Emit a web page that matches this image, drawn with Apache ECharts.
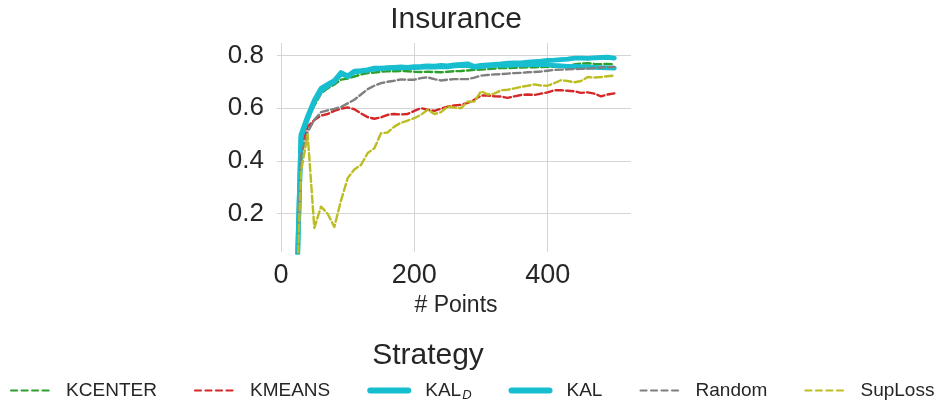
<!DOCTYPE html>
<html>
<head>
<meta charset="utf-8">
<script src="https://cdn.jsdelivr.net/npm/echarts@6/dist/echarts.min.js"></script>
<style>
html,body{margin:0;padding:0;background:#fff;}
#chart{width:938px;height:401px;}
</style>
</head>
<body>
<div id="chart"></div>
<script>
const points = [20,30,40,50,60,70,80,90,100,110,120,130,140,150,160,170,180,190,200,210,220,230,240,250,260,270,280,290,300,310,320,330,340,350,360,370,380,390,400,410,420,430,440,450,460,470,480,490,500];

const kcenter = [-0.4,0.49,0.56,0.61,0.655,0.675,0.69,0.708,0.712,0.72,0.728,0.733,0.735,0.738,0.74,0.74,0.741,0.74,0.738,0.737,0.738,0.737,0.736,0.738,0.74,0.741,0.743,0.745,0.746,0.748,0.75,0.752,0.752,0.753,0.754,0.755,0.755,0.756,0.757,0.757,0.756,0.758,0.766,0.769,0.77,0.768,0.767,0.768,0.766];

const kmeans = [-0.4,0.45,0.53,0.555,0.572,0.578,0.59,0.598,0.603,0.596,0.58,0.566,0.56,0.565,0.575,0.578,0.576,0.578,0.59,0.6,0.594,0.59,0.598,0.606,0.61,0.613,0.62,0.632,0.648,0.648,0.645,0.644,0.639,0.645,0.65,0.652,0.65,0.655,0.66,0.668,0.668,0.666,0.664,0.658,0.66,0.655,0.645,0.652,0.656];

const kalD = [-0.4,0.49,0.56,0.625,0.665,0.685,0.7,0.73,0.72,0.737,0.74,0.744,0.748,0.75,0.752,0.752,0.753,0.754,0.754,0.755,0.757,0.756,0.758,0.757,0.76,0.761,0.762,0.755,0.758,0.76,0.762,0.763,0.762,0.764,0.765,0.764,0.766,0.765,0.765,0.762,0.76,0.758,0.758,0.757,0.756,0.755,0.754,0.753,0.752];

const kal = [-0.4,0.5,0.57,0.63,0.675,0.69,0.705,0.735,0.722,0.74,0.742,0.745,0.752,0.752,0.754,0.755,0.756,0.755,0.757,0.758,0.76,0.759,0.762,0.76,0.764,0.766,0.768,0.758,0.762,0.764,0.766,0.768,0.771,0.772,0.772,0.774,0.776,0.778,0.781,0.782,0.784,0.786,0.79,0.79,0.789,0.791,0.792,0.793,0.79];

const random = [-0.4,0.42,0.51,0.556,0.585,0.592,0.597,0.605,0.618,0.632,0.652,0.672,0.685,0.695,0.7,0.704,0.709,0.708,0.708,0.714,0.717,0.71,0.705,0.708,0.71,0.71,0.71,0.716,0.723,0.726,0.728,0.729,0.731,0.733,0.734,0.736,0.737,0.739,0.742,0.745,0.746,0.747,0.748,0.749,0.75,0.752,0.754,0.755,0.756];

const suploss = [-0.35,0.36,0.5,0.146,0.227,0.2,0.15,0.25,0.335,0.368,0.385,0.43,0.448,0.505,0.508,0.53,0.545,0.553,0.562,0.575,0.594,0.578,0.585,0.606,0.602,0.6,0.625,0.625,0.664,0.652,0.655,0.668,0.67,0.675,0.681,0.685,0.69,0.686,0.685,0.695,0.706,0.703,0.698,0.703,0.718,0.716,0.718,0.721,0.724];

const xTicks = [0,200,400];
const yTicks = [0.2,0.4,0.6,0.8];
const seriesNames = ['KCENTER','KMEANS','KAL_D','KAL','Random','SupLoss'];
const seriesColors = ['#2ca02c','#d62728','#17becf','#17becf','#7f7f7f','#bcbd22'];
const seriesValues = [kcenter,kmeans,kalD,kal,random,suploss];
const dashed = [true,true,false,false,true,true];

const FONT = "'Liberation Sans', Arial, sans-serif";
const TXT = '#262626';

const chart = echarts.init(document.getElementById('chart'), null, {renderer:'canvas'});

const series = seriesNames.map((name,i)=>({
  name: name,
  type: 'line',
  data: points.map((x,j)=>[x, seriesValues[i][j]]),
  showSymbol: false,
  symbol: 'none',
  clip: true,
  animation: false,
  lineStyle: {
    color: seriesColors[i],
    width: dashed[i] ? 2.4 : 4.8,
    type: dashed[i] ? [7.4,3.2] : 'solid',
    cap: 'round',
    join: 'round'
  },
  itemStyle: {color: seriesColors[i]},
  emphasis: {disabled: true}
}));

const option = {
  animation: false,
  backgroundColor: '#ffffff',
  textStyle: {fontFamily: FONT, color: TXT},
  grid: {left: 281, right: 307, top: 43, bottom: 149, containLabel: false},
  graphic: [
    {type:'text', x: 456, y: 20, style:{text:'Insurance', fill: TXT, font: "30px " + FONT, textAlign:'center', textVerticalAlign:'middle'}},
    {type:'text', x: 428, y: 356, style:{text:'Strategy', fill: TXT, font: "30px " + FONT, textAlign:'center', textVerticalAlign:'middle'}}
  ],
  xAxis: {
    type: 'value',
    min: 0, max: 525,
    name: '# Points',
    nameLocation: 'middle',
    nameGap: 42,
    nameTextStyle: {fontSize: 23, color: TXT, fontFamily: FONT},
    axisLine: {show: false},
    axisTick: {show: false, customValues: xTicks},
    axisLabel: {customValues: xTicks, fontSize: 27, color: TXT, fontFamily: FONT, margin: 10},
    splitLine: {show: true, lineStyle: {color: '#d5d5d5', width: 1}}
  },
  yAxis: {
    type: 'value',
    min: 0.055, max: 0.847,
    axisLine: {show: false},
    axisTick: {show: true, length: 4, customValues: yTicks, lineStyle:{color:'#d5d5d5'}},
    axisLabel: {customValues: yTicks, fontSize: 26, color: TXT, fontFamily: FONT, margin: 17,
      formatter: v => Number(v).toFixed(1)},
    splitLine: {show: true, lineStyle: {color: '#d5d5d5', width: 1}}
  },
  legend: {
    left: 10, top: 381, width: 928,
    padding: 0,
    orient: 'horizontal',
    itemWidth: 38, itemHeight: 14, itemGap: 37,
    itemStyle: {opacity: 0},
    data: seriesNames.map((n,i)=>({name:n, itemStyle:{opacity:0, borderWidth:0},
      lineStyle: dashed[i] ? {width:2.2, type:[6,4.5]} : {width:6, cap:'round'}})),
    formatter: name => name === 'KAL_D' ? 'KAL{sub|D}' : name,
    textStyle: {fontSize: 19, color: TXT, fontFamily: FONT, padding: [0,0,0,12],
      rich: {sub: {fontSize: 13, fontStyle: 'italic', color: TXT, fontFamily: FONT, padding: [10,0,0,1]}}
    },
    selectedMode: false
  },
  series: series
};
chart.setOption(option);
</script>
</body>
</html>
